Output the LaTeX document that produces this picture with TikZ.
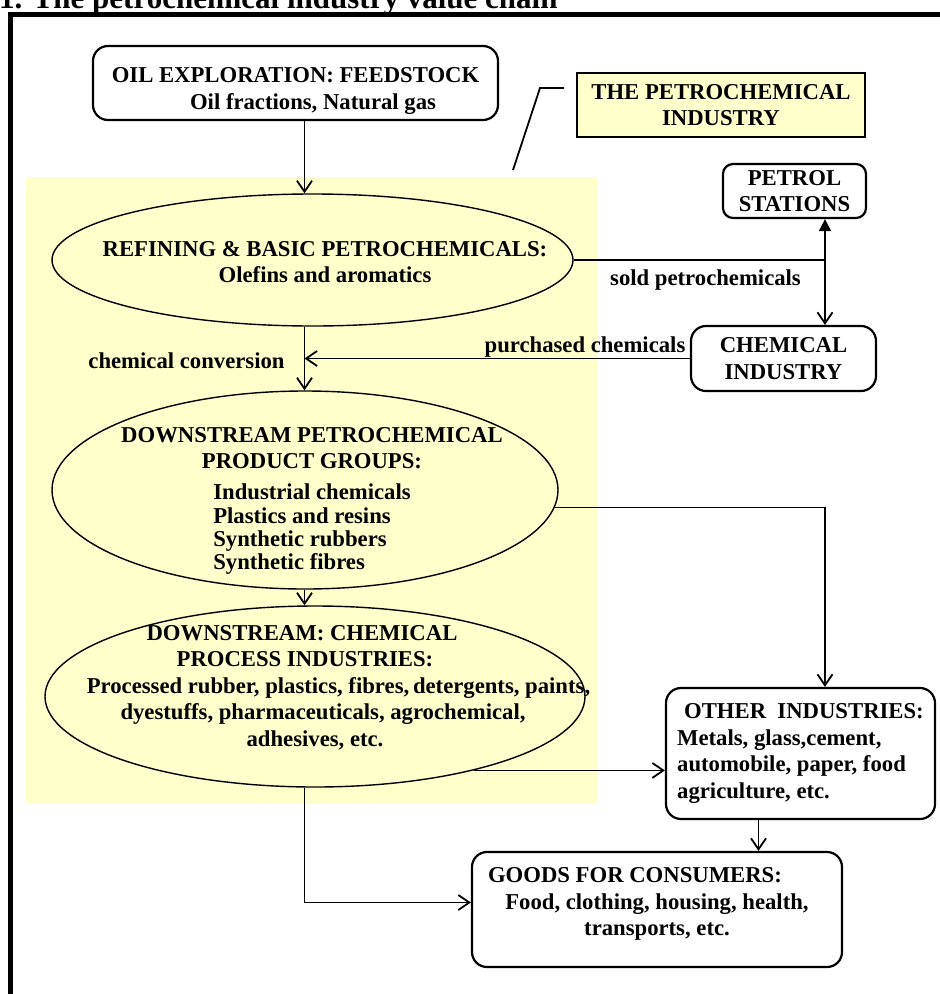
\documentclass[tikz,border=0pt]{standalone}
\usepackage{fontspec}
\setmainfont{Liberation Serif}
\usepackage{xcolor}
\usepackage{tikz}
\usetikzlibrary{shapes.geometric, arrows.meta}

\definecolor{paleyellow}{RGB}{255,255,204}
\newcommand{\padx}[1]{\rule{#1}{0pt}}

\begin{document}
\begin{tikzpicture}[x=1pt, y=-1pt,
  font=\fontsize{22.7}{26.5}\selectfont\bfseries,
  >={Straight Barb[length=11pt,width=15pt]}]

\tikzstyle{rbox} =
[rectangle,
rounded corners=15pt,
inner sep=2pt,
align=center,
line width=2.2pt,
draw=black,
fill=white]

\tikzstyle{tag} =
[rectangle,
inner sep=2pt,
align=center,
line width=1.4pt,
draw=black,
fill=paleyellow]

\tikzstyle{oval} =
[ellipse,
inner sep=0pt,
line width=1.4pt,
draw=black,
fill=paleyellow]

\tikzstyle{txt} = [align=center, inner sep=0pt]
\tikzstyle{link} = [line width=1.8pt]

\useasboundingbox (0,0) rectangle (940,994);

% title cut by the page edge, frame
\node (title) [inner sep=0pt, anchor=base west,
  font=\fontsize{31}{36}\selectfont\bfseries] at (-1,8.5)
{1. The petrochemical industry value chain};
\draw[line width=5pt] (10.5,1000) -- (10.5,14.5) -- (945,14.5);

% the industry zone
\node (zone) [rectangle, fill=paleyellow, inner sep=0pt,
  minimum width=571pt, minimum height=627pt] at (311.5,490.5) {};

\node (oil) [rbox, minimum width=405pt, minimum height=74pt] at (295.5,83)
{\rule{0pt}{31pt}OIL EXPLORATION: FEEDSTOCK\\\padx{35pt}Oil fractions, Natural gas};

\node (petind) [tag, minimum width=288pt, minimum height=64pt] at (721,105)
{THE PETROCHEMICAL\\INDUSTRY};

\node (petrol) [rbox, rounded corners=10pt, minimum width=143pt, minimum height=54pt]
at (794.5,191) {PETROL\\STATIONS};

\node (chem) [rbox, minimum width=185pt, minimum height=65pt] at (783.5,358.5)
{CHEMICAL\\INDUSTRY};

\node (refine) [oval, minimum width=521pt, minimum height=132pt] at (312.5,260) {};
\node (refinetxt) [txt] at (325,262)
{REFINING \& BASIC PETROCHEMICALS:\\Olefins and aromatics};

\node (prod) [oval, minimum width=506pt, minimum height=198pt] at (305,490) {};
\node (prodtxt) [txt] at (312,502)
{DOWNSTREAM PETROCHEMICAL\\PRODUCT GROUPS:\\[4.5pt]%
\renewcommand{\arraystretch}{0.88}%
\begin{tabular}[t]{@{}l@{}}Industrial chemicals\\Plastics and resins\\
Synthetic rubbers\\Synthetic fibres\end{tabular}};

\node (pro) [oval, minimum width=540pt, minimum height=181pt] at (315,696.5) {};
\node (protxt) [txt] at (315,687.5)
{DOWNSTREAM: CHEMICAL\padx{26pt}\\PROCESS INDUSTRIES:\padx{20pt}\\
\padx{47pt}Processed rubber, plastics, fibres,\,detergents, paints,\\
\padx{16pt}dyestuffs, pharmaceuticals, agrochemical,\\adhesives, etc.};

\node (other) [rbox, align=left, minimum width=269pt, minimum height=131pt]
at (800.5,753.5)
{\padx{7pt}OTHER\ \ INDUSTRIES:\\Metals, glass,cement,\\automobile, paper, food\\agriculture, etc.};

\node (goods) [rbox, minimum width=370pt, minimum height=115pt] at (657,909.5)
{GOODS FOR CONSUMERS:\padx{44pt}\\Food, clothing, housing, health,\\
transports, etc.\rule[-16pt]{0pt}{16pt}};

% connector labels
\node (sold) [inner sep=0pt, anchor=base] at (705.5,285) {sold petrochemicals};
\node (purch) [inner sep=0pt, anchor=base] at (585,352) {purchased chemicals};
\node (conv) [inner sep=0pt, anchor=base] at (186.5,368) {chemical conversion};

\coordinate (spine) at (304.5,0);
\coordinate (fork) at (825,260);
\coordinate (calla) at (513,170);
\coordinate (callb) at (540,88);
\coordinate (callc) at (564,88);

\draw[link] (calla) -- (callb) -- (callc);

\draw[link, ->] (oil.south -| spine) -- (refine.north -| spine);
\draw[link, ->] (refine.south -| spine) -- (prod.north -| spine);
\draw[link, ->] (chem.west) -- (chem.west -| spine);
\draw[link] (refine.east) -- (fork);
\draw[link, -{Triangle[length=12pt,width=12pt]}] (fork) -- (fork |- petrol.south);
\draw[link, ->] (fork) -- (fork |- chem.north);
\draw[link, ->] (prod.south -| spine) -- (pro.north -| spine);
\draw[link, ->] (prod.-4) -| (fork |- other.north);
\draw[link, ->] (pro.-25) -- (pro.-25 -| other.west);
\draw[link, ->] ([xshift=-42pt]other.south) -- ([xshift=-42pt]other.south |- goods.north);
\draw[link, ->] (pro.south -| spine) |- ([yshift=7pt]goods.west);

\end{tikzpicture}
\end{document}
